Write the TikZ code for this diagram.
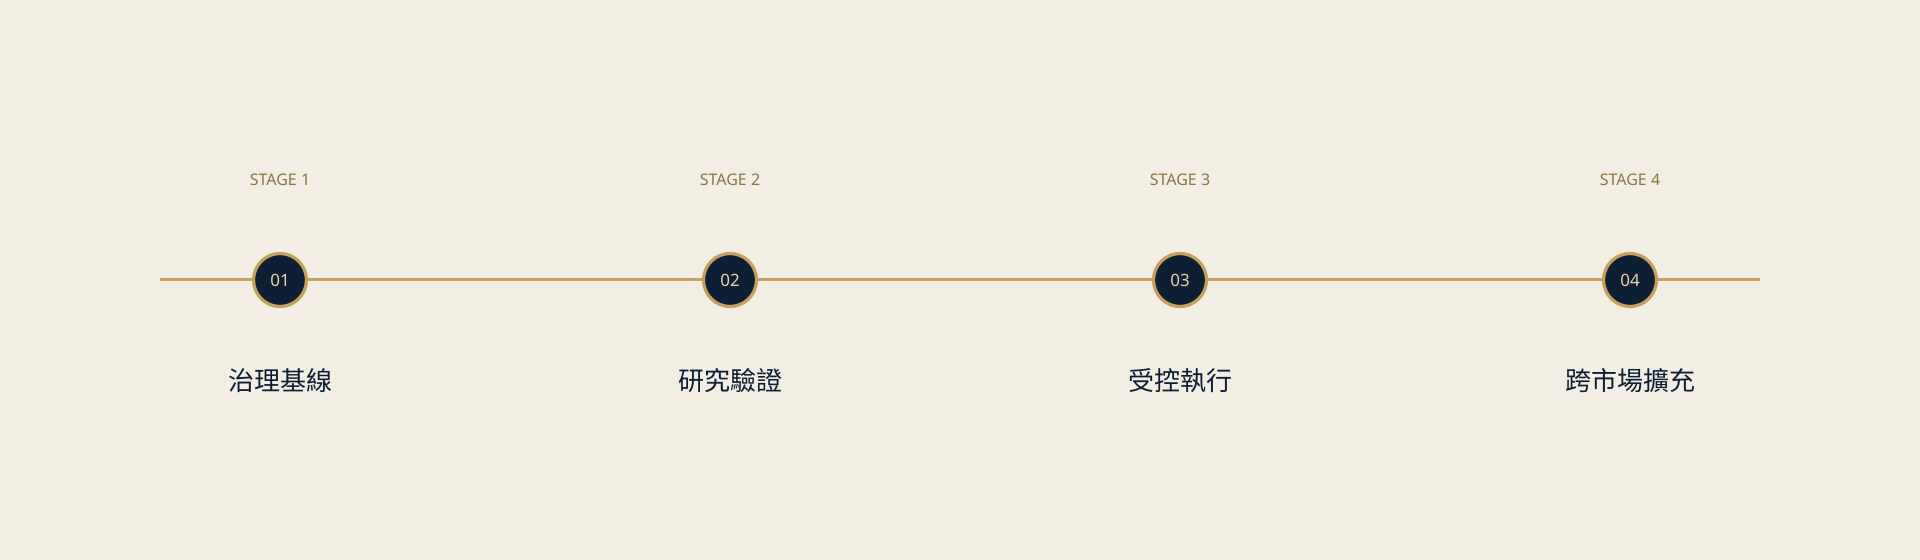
\documentclass[tikz,border=0pt]{standalone}
\usepackage{fontspec}
\setmainfont{Noto Sans}
\newfontfamily\cjk{Noto Sans CJK TC}
\definecolor{paper}{HTML}{F2EEE3}
\definecolor{gold}{HTML}{C6A15B}
\definecolor{navy}{HTML}{0D1E35}
\definecolor{stagebrown}{HTML}{8C7544}
\definecolor{numgold}{HTML}{E8D3A6}

\begin{document}
\begin{tikzpicture}[x=0.5pt, y=-0.5pt, node distance=225pt, auto,
  stagedot/.style={draw=gold, fill=navy, circle, line width=1.6pt, minimum size=26.5pt, inner sep=0pt, text=numgold, font=\fontsize{8.5}{10}\selectfont},
  stagetag/.style={text=stagebrown, font=\fontsize{8}{10}\selectfont, node distance=50pt},
  stagename/.style={text=navy, font=\cjk\fontsize{13}{15}\selectfont, node distance=50.5pt}]
\fill[paper] (0,0) rectangle (1920,560);
\useasboundingbox (0,0) rectangle (1920,560);
\coordinate (a) at (160,280);
\coordinate (b) at (1760,280);
\draw[gold, line width=1.5pt] (a) -- (b);
\node  (1)[stagedot] at (280,280) {01};
\node  (2)[stagedot] [  right  of = 1] {02};
\node  (3)[stagedot] [  right  of = 2] {03};
\node  (4)[stagedot] [  right  of = 3] {04};
\node  (t1)[stagetag] [  above  of = 1] {STAGE 1};
\node  (t2)[stagetag] [  above  of = 2] {STAGE 2};
\node  (t3)[stagetag] [  above  of = 3] {STAGE 3};
\node  (t4)[stagetag] [  above  of = 4] {STAGE 4};
\node  (n1)[stagename] [  below  of = 1] {治理基線};
\node  (n2)[stagename] [  below  of = 2] {研究驗證};
\node  (n3)[stagename] [  below  of = 3] {受控執行};
\node  (n4)[stagename] [  below  of = 4] {跨市場擴充};
\end{tikzpicture}
\end{document}
